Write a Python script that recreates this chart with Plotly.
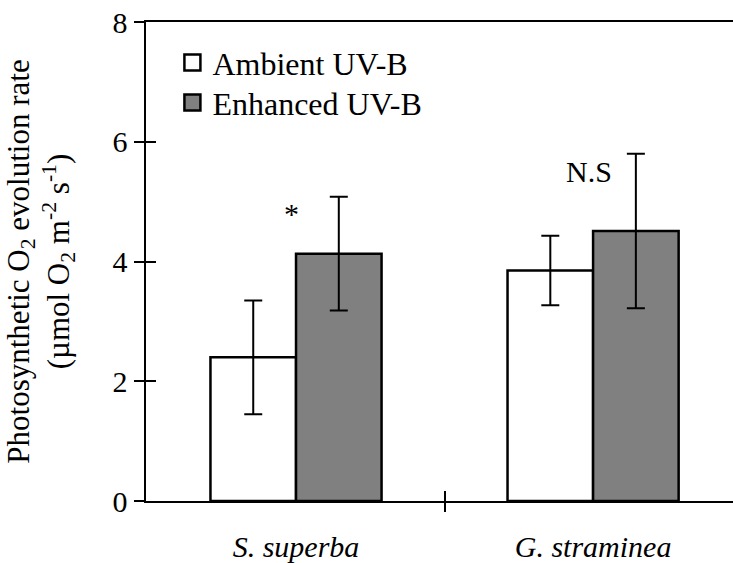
import plotly.graph_objects as go

# ---- data ----
categories = ["S. superba", "G. straminea"]
series_names = ["Ambient UV-B", "Enhanced UV-B"]
ambient = [2.40, 3.85]
ambient_err = [0.95, 0.58]
enhanced = [4.13, 4.51]
enhanced_err = [0.95, 1.29]
y_ticks = [0, 2, 4, 6, 8]
sig_labels = ["*", "N.S"]
sig_y = [4.8, 5.5]

FONT = "Liberation Serif, Times New Roman, serif"
FS = 30
x_pos = list(range(len(categories)))
cat_text = [f"<i>{c}</i>" for c in categories]

fig = go.Figure()

bar_line = dict(color="black", width=2.5)
err_style = dict(type="data", visible=True, color="black", thickness=2, width=9)

fig.add_trace(go.Bar(
    x=x_pos, y=ambient, name=series_names[0], showlegend=False,
    marker=dict(color="white", line=bar_line),
    error_y=dict(array=ambient_err, **err_style),
))
fig.add_trace(go.Bar(
    x=x_pos, y=enhanced, name=series_names[1], showlegend=False,
    marker=dict(color="#808080", line=bar_line),
    error_y=dict(array=enhanced_err, **err_style),
))

# legend entries (larger square symbols than bar legend glyphs)
fig.add_trace(go.Scatter(
    x=[None], y=[None], mode="markers", name=series_names[0], legend="legend",
    marker=dict(symbol="square", size=16, color="white", line=dict(color="black", width=2.5)),
    xaxis="x2", yaxis="y",
))
fig.add_trace(go.Scatter(
    x=[None], y=[None], mode="markers", name=series_names[1], legend="legend2",
    marker=dict(symbol="square", size=16, color="#808080", line=dict(color="black", width=2.5)),
    xaxis="x3", yaxis="y",
))
fig.add_trace(go.Scatter(x=[None], y=[None], mode="markers", showlegend=False,
                         xaxis="x", yaxis="y2"))

for txt, cx, cy in zip(sig_labels, x_pos, sig_y):
    fig.add_annotation(x=cx - 0.015, y=cy, xref="x", yref="y", text=txt,
                       showarrow=False, font=dict(family=FONT, size=FS, color="black"))

xr = [-0.505, 1.471]
yr = [0, 8]
mid = [0.5]

leg_common = dict(x=0.045, xanchor="left", yanchor="middle", bgcolor="rgba(0,0,0,0)",
                  font=dict(family=FONT, size=32, color="black"), itemsizing="trace")

fig.update_layout(
    width=733, height=563,
    margin=dict(l=146, r=0, t=22, b=60),
    paper_bgcolor="white", plot_bgcolor="white",
    font=dict(family=FONT, size=FS, color="black"),
    barmode="group", bargap=0.424, bargroupgap=0,
    showlegend=True,
    legend=dict(y=0.9148, **leg_common),
    legend2=dict(y=0.8316, **leg_common),
    xaxis=dict(range=xr, tickvals=x_pos, ticktext=cat_text, ticks="",
               showline=True, linecolor="black", linewidth=2, mirror=True,
               showgrid=False, zeroline=False, ticklabelstandoff=18,
               tickfont=dict(family=FONT, size=FS, color="black")),
    xaxis2=dict(range=xr, overlaying="x", anchor="y", tickvals=mid, ticks="outside",
                ticklen=10, tickwidth=2, tickcolor="black", showticklabels=False,
                showline=False, showgrid=False, zeroline=False),
    xaxis3=dict(range=xr, overlaying="x", anchor="y", tickvals=mid, ticks="inside",
                ticklen=10, tickwidth=2, tickcolor="black", showticklabels=False,
                showline=False, showgrid=False, zeroline=False),
    yaxis=dict(range=yr, tickvals=y_ticks, ticks="outside", ticklen=10, tickwidth=2,
               tickcolor="black", showline=True, linecolor="black", linewidth=2.5,
               showgrid=False, zeroline=False,
               tickfont=dict(family=FONT, size=FS, color="black"),
               title=dict(text="Photosynthetic O<sub>2</sub> evolution rate<br>"
                               "(µmol O<sub>2</sub> m<sup>-2</sup> s<sup>-1</sup>)",
                          font=dict(family=FONT, size=31, color="black"), standoff=34)),
    yaxis2=dict(range=yr, overlaying="y", anchor="x", side="left", tickvals=y_ticks,
                ticks="inside", ticklen=10, tickwidth=2, tickcolor="black",
                showticklabels=False, showline=False, showgrid=False, zeroline=False),
)

fig.write_html(
    "out.html",
    config={"displayModeBar": False, "staticPlot": True},
    post_script="document.body.style.margin='0';document.body.style.overflow='hidden';",
)
